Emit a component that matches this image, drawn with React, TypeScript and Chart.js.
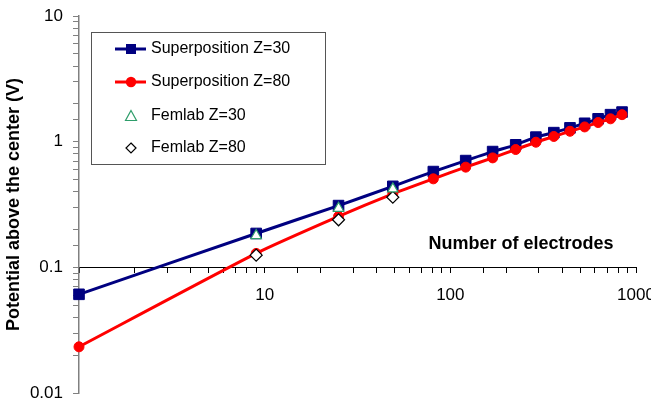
import React, { useEffect, useRef } from "react";
import { Chart, registerables } from "chart.js";

Chart.register(...registerables);

const FONT = "'Liberation Sans', Arial, Helvetica, sans-serif";

const electrodes = [1, 9, 25, 49, 81, 121, 169, 225, 289, 361, 441, 529, 625, 729, 841];
const superpositionZ30 = [0.061, 0.186, 0.31, 0.441, 0.578, 0.707, 0.834, 0.944, 1.087, 1.18, 1.288, 1.4, 1.52, 1.64, 1.72];
const superpositionZ80 = [0.0233, 0.129, 0.254, 0.384, 0.506, 0.627, 0.743, 0.866, 0.99, 1.1, 1.21, 1.31, 1.42, 1.52, 1.64];
const femlabElectrodes = [9, 25, 49];
const femlabZ30 = [0.179, 0.295, 0.421];
const femlabZ80 = [0.125, 0.239, 0.361];

const xTickLabels = [10, 100, 1000];
const yTickLabels = [0.01, 0.1, 1, 10];
const xTitle = "Number of electrodes";
const yTitle = "Potential above the center (V)";

const toPoints = (xs: number[], ys: number[]) => xs.map((x, i) => ({ x, y: ys[i] }));

const labelFor = (v: number, list: number[]) => {
  const hit = list.find((l) => Math.abs(Math.log10(v) - Math.log10(l)) < 1e-6);
  return hit === undefined ? "" : String(hit);
};

const overlayPlugin = {
  id: "overlay",
  afterDraw(chart: any) {
    const ctx = chart.ctx as CanvasRenderingContext2D;
    const ds = chart.data.datasets;
    ctx.save();
    // x axis title
    ctx.fillStyle = "#000";
    ctx.font = `bold 18px ${FONT}`;
    ctx.textAlign = "center";
    ctx.textBaseline = "middle";
    ctx.fillText(xTitle, 521, 244);

    // legend box
    ctx.fillStyle = "#fff";
    ctx.fillRect(91.5, 32.5, 234, 132);
    ctx.strokeStyle = "#555";
    ctx.lineWidth = 1;
    ctx.strokeRect(91.5, 32.5, 234, 132);

    const mx = 131;
    const rows = [49, 82, 116, 148];
    // row 1: navy line + square
    ctx.strokeStyle = "#000080";
    ctx.lineWidth = 3;
    ctx.beginPath();
    ctx.moveTo(115, rows[0]);
    ctx.lineTo(146, rows[0]);
    ctx.stroke();
    ctx.fillStyle = "#000080";
    ctx.fillRect(mx - 5, rows[0] - 5, 10, 10);
    // row 2: red line + circle
    ctx.strokeStyle = "#ff0000";
    ctx.beginPath();
    ctx.moveTo(115, rows[1]);
    ctx.lineTo(146, rows[1]);
    ctx.stroke();
    ctx.fillStyle = "#ff0000";
    ctx.beginPath();
    ctx.arc(mx, rows[1], 5.2, 0, Math.PI * 2);
    ctx.fill();
    // row 3: triangle
    ctx.strokeStyle = "#2e9d6a";
    ctx.lineWidth = 1.2;
    ctx.fillStyle = "#fff";
    ctx.beginPath();
    ctx.moveTo(mx, rows[2] - 5.5);
    ctx.lineTo(mx + 5.5, rows[2] + 4.5);
    ctx.lineTo(mx - 5.5, rows[2] + 4.5);
    ctx.closePath();
    ctx.fill();
    ctx.stroke();
    // row 4: diamond
    ctx.strokeStyle = "#000";
    ctx.beginPath();
    ctx.moveTo(mx, rows[3] - 5);
    ctx.lineTo(mx + 5, rows[3]);
    ctx.lineTo(mx, rows[3] + 5);
    ctx.lineTo(mx - 5, rows[3]);
    ctx.closePath();
    ctx.fill();
    ctx.stroke();

    ctx.fillStyle = "#000";
    ctx.font = `16px ${FONT}`;
    ctx.textAlign = "left";
    ctx.textBaseline = "middle";
    for (let i = 0; i < 4; i++) {
      ctx.fillText(ds[i].label, 151, rows[i]);
    }
    ctx.restore();
  },
};

export default function App() {
  const ref = useRef<HTMLCanvasElement | null>(null);

  useEffect(() => {
    if (!ref.current) return;
    const chart = new Chart(ref.current, {
      type: "scatter",
      data: {
        datasets: [
          {
            label: "Superposition Z=30",
            data: toPoints(electrodes, superpositionZ30),
            showLine: true,
            borderColor: "#000080",
            backgroundColor: "#000080",
            borderWidth: 3,
            pointStyle: "rect",
            pointRadius: 7.5,
            pointBorderWidth: 1,
            tension: 0.2,
            clip: false,
            order: 2,
          } as any,
          {
            label: "Superposition Z=80",
            data: toPoints(electrodes, superpositionZ80),
            showLine: true,
            borderColor: "#ff0000",
            backgroundColor: "#ff0000",
            borderWidth: 3,
            pointStyle: "circle",
            pointRadius: 5,
            pointBorderWidth: 1,
            tension: 0.2,
            clip: false,
            order: 1,
          },
          {
            label: "Femlab Z=30",
            data: toPoints(femlabElectrodes, femlabZ30),
            showLine: false,
            borderColor: "#2e9d6a",
            backgroundColor: "#ffffff",
            pointStyle: "triangle",
            pointRadius: 6,
            pointBorderWidth: 1.2,
            clip: false,
            order: 0,
          },
          {
            label: "Femlab Z=80",
            data: toPoints(femlabElectrodes, femlabZ80),
            showLine: false,
            borderColor: "#000000",
            backgroundColor: "#ffffff",
            pointStyle: "rectRot",
            pointRadius: 6,
            pointBorderWidth: 1.2,
            clip: false,
            order: 0,
          },
        ],
      },
      options: {
        responsive: false,
        animation: false,
        layout: { padding: { top: 16, bottom: 12, left: 0, right: 15 } },
        plugins: {
          legend: { display: false },
          tooltip: { enabled: false },
        },
        scales: {
          x: {
            type: "logarithmic",
            axis: "x",
            min: 1,
            max: 1000,
            position: { y: 0.1 } as any,
            grid: { drawOnChartArea: false, color: "#000", tickLength: 5 },
            border: { color: "#000", width: 1 },
            ticks: {
              autoSkip: false,
              maxRotation: 0,
              padding: 13,
              color: "#000",
              font: { family: FONT, size: 17 },
              callback: (v: any) => labelFor(Number(v), xTickLabels),
            },
            afterFit: (scale: any) => {
              scale.paddingLeft = 0;
              scale.paddingRight = 0;
            },
          },
          y: {
            type: "logarithmic",
            min: 0.01,
            max: 10,
            position: "left",
            grid: { drawOnChartArea: false, color: "#808080", tickLength: 6 },
            border: { color: "#808080", width: 1.5 },
            ticks: {
              autoSkip: false,
              padding: 10,
              color: "#000",
              font: { family: FONT, size: 17 },
              callback: (v: any) => labelFor(Number(v), yTickLabels),
            },
            title: {
              display: true,
              text: yTitle,
              color: "#000",
              font: { family: FONT, size: 18, weight: "bold" },
              padding: { top: 3, bottom: 0 },
            },
            afterFit: (scale: any) => {
              scale.width = 79;
              scale.paddingTop = 0;
              scale.paddingBottom = 0;
            },
          },
        },
      },
      plugins: [overlayPlugin],
    });
    return () => chart.destroy();
  }, []);

  return (
    <canvas
      ref={ref}
      width={651}
      height={405}
      style={{ position: "absolute", left: 0, top: 0, display: "block" }}
    />
  );
}
